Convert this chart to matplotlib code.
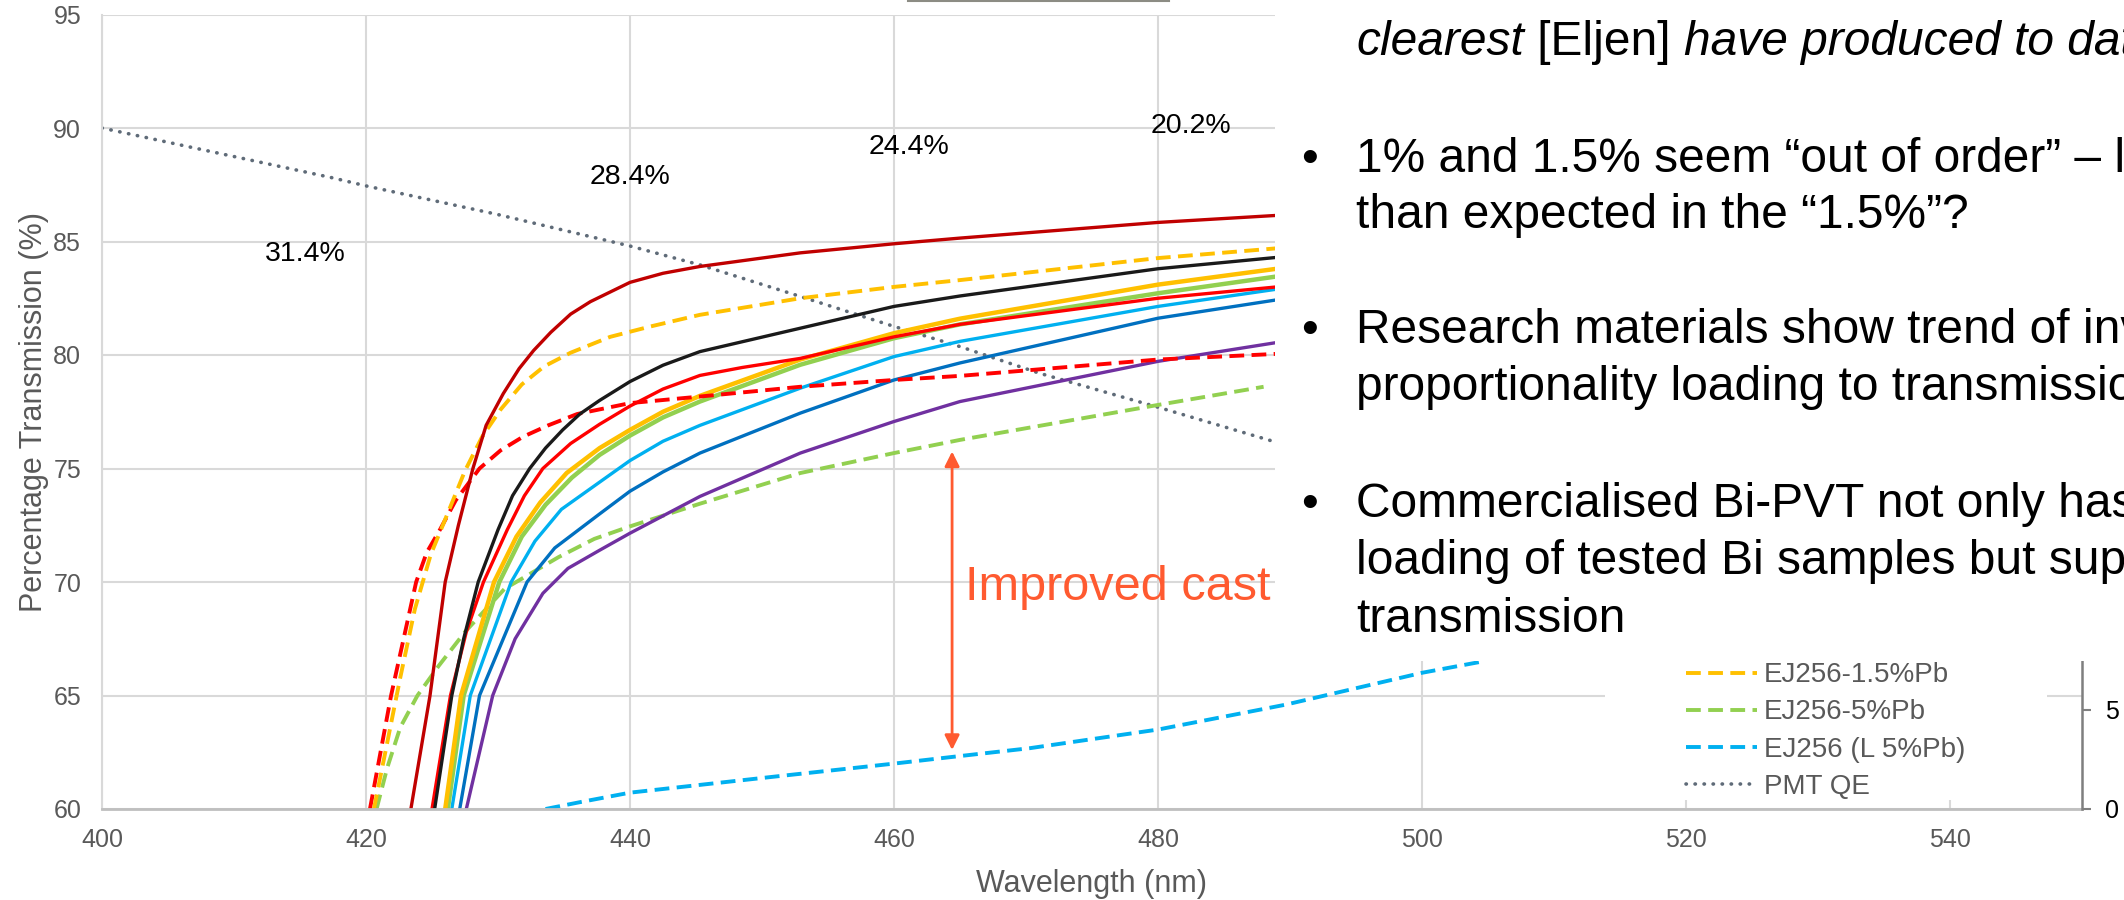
import matplotlib
matplotlib.use("Agg")
import matplotlib.pyplot as plt
from matplotlib.patches import Rectangle
from matplotlib.lines import Line2D

plt.rcParams['font.family'] = ['Liberation Sans', 'DejaVu Sans']

# transmission curves, wavelength (nm) / transmission (%)
dkred_x = [423.4, 424.85, 426.0, 427.0, 428.1, 429.1, 430.4, 431.6, 432.7, 434.0, 435.5, 437.0,
           440.0, 442.5, 445.3, 452.9, 460, 465, 480, 489]
dkred_y = [60, 65, 70, 72.5, 75, 76.9, 78.3, 79.4, 80.2, 81.0, 81.8, 82.35,
           83.2, 83.6, 83.9, 84.5, 84.9, 85.15, 85.84, 86.15]

orgdash_x = [420.6, 421.6, 422.6, 423.7, 424.9, 426.1, 427.5, 428.8, 430.2, 431.8, 433.5, 435.5,
             438.5, 441.5, 445.3, 452.9, 460, 465, 480, 489]
orgdash_y = [60, 62.9, 65.8, 68.8, 71.2, 72.9, 74.9, 76.4, 77.6, 78.7, 79.5, 80.1,
             80.8, 81.25, 81.77, 82.5, 83.0, 83.3, 84.27, 84.7]

black_x = [425.2, 426.5, 427.4, 428.5, 430.0, 431.1, 432.4, 433.6, 434.9, 436.2, 437.7, 440,
           442.5, 445.3, 452.9, 460, 465, 480, 489]
black_y = [60, 65, 67.5, 70, 72.3, 73.8, 75, 75.9, 76.7, 77.4, 78.0, 78.83,
           79.55, 80.15, 81.18, 82.14, 82.6, 83.8, 84.3]

red_x = [425.0, 426.4, 427.6, 428.9, 430.7, 432.0, 433.4, 435.5, 437.7, 440, 442.5, 445.3,
         448.5, 452.9, 460, 465, 480, 489]
red_y = [60, 65, 67.8, 70, 72.3, 73.8, 75, 76.1, 76.95, 77.75, 78.5, 79.1,
         79.45, 79.85, 80.8, 81.35, 82.5, 83.0]

gold_x = [426.0, 427.2, 429.7, 431.4, 433.2, 435.2, 437.7, 440, 442.5, 445.3, 452.9, 460, 465, 480, 489]
gold_y = [60, 65, 70, 72.0, 73.5, 74.8, 75.9, 76.7, 77.5, 78.2, 79.8, 80.96, 81.6, 83.1, 83.8]

green_x = [426.2, 427.4, 430.1, 431.8, 433.6, 435.6, 437.7, 440, 442.5, 445.3, 452.9, 460, 465, 480, 489]
green_y = [60, 65, 70, 72.0, 73.4, 74.6, 75.6, 76.45, 77.25, 77.95, 79.57, 80.74, 81.35, 82.72, 83.46]

ltblue_x = [426.5, 427.9, 431.0, 432.8, 434.8, 437.7, 440, 442.5, 445.3, 452.9, 460, 465, 480, 489]
ltblue_y = [60, 65, 70, 71.8, 73.2, 74.4, 75.35, 76.2, 76.9, 78.54, 79.93, 80.6, 82.14, 82.9]

blue_x = [427.1, 428.6, 432.2, 434.3, 437.7, 440, 442.5, 445.3, 452.9, 460, 465, 480, 489]
blue_y = [60, 65, 70, 71.5, 73.0, 74.0, 74.85, 75.68, 77.44, 78.9, 79.65, 81.62, 82.43]

purple_x = [427.6, 429.6, 431.3, 433.4, 435.3, 437.7, 440, 445.3, 452.9, 460, 465, 480, 489]
purple_y = [60, 65, 67.5, 69.5, 70.6, 71.4, 72.15, 73.77, 75.68, 77.07, 77.95, 79.72, 80.55]

reddash_x = [420.3, 421.9, 423.8, 424.6, 425.6, 426.8, 428.6, 430.2, 431.9, 433.8, 436.0, 440,
             445.3, 452.9, 460, 465, 480, 489]
reddash_y = [60, 65, 70, 71.3, 72.3, 73.6, 75, 75.8, 76.4, 76.9, 77.4, 77.88,
             78.17, 78.6, 78.9, 79.08, 79.8, 80.05]

grndash_x = [420.8, 421.6, 422.6, 423.9, 425.5, 427.5, 430.5, 434.6, 437.3, 440, 445.3, 452.9,
             460, 465, 480, 488]
grndash_y = [60, 61.8, 63.6, 65.0, 66.3, 67.8, 69.7, 71.1, 71.9, 72.45, 73.45, 74.8,
             75.68, 76.26, 77.8, 78.6]

bludash_x = [433.6, 436.2, 440, 451, 460, 464.5, 470.3, 480, 489.7, 500, 504.6]
bludash_y = [60, 60.3, 60.72, 61.43, 62.0, 62.3, 62.68, 63.5, 64.6, 66.0, 66.5]

pmt_x = [400, 417.5, 420, 429.9, 440, 445.3, 452.9, 460, 465, 471, 480, 489]
pmt_y = [90, 87.8, 87.45, 86.2, 84.8, 83.97, 82.58, 81.26, 80.37, 79.2, 77.7, 76.15]

legend_labels = ["EJ256-1.5%Pb", "EJ256-5%Pb", "EJ256 (L 5%Pb)", "PMT QE"]

pct_labels = ["31.4%", "28.4%", "24.4%", "20.2%"]
pct_x = [415.4, 440.0, 461.1, 482.5]
pct_y = [84.45, 87.85, 89.18, 90.09]

W, H = 2124, 900
fig = plt.figure(figsize=(W / 100, H / 100), dpi=100)
ax = fig.add_axes([102 / W, 91 / H, 1980 / W, 794.5 / H])
ax.set_xlim(400, 550)
ax.set_ylim(60, 95)
ax.set_xticks(range(400, 541, 20))
ax.set_yticks(range(60, 96, 5))
ax.grid(color='#D9D9D9', lw=1.5)
ax.set_axisbelow(True)
for s in ['top', 'right']:
    ax.spines[s].set_visible(False)
ax.spines['left'].set_color('#D9D9D9')
ax.spines['left'].set_linewidth(1.5)
ax.spines['bottom'].set_color('#BFBFBF')
ax.spines['bottom'].set_linewidth(2)
ax.tick_params(axis='both', length=0, labelsize=18, labelcolor='#595959')
ax.tick_params(axis='y', pad=15)
ax.tick_params(axis='x', pad=14)
ax.set_xlabel("Wavelength (nm)", fontsize=22, color='#595959', labelpad=12)
ax.set_ylabel("Percentage Transmission (%)", fontsize=22, color='#595959', labelpad=3)

solid = dict(lw=2.4, solid_capstyle='round', solid_joinstyle='round')
thick = dict(lw=3.2, solid_capstyle='round', solid_joinstyle='round')
dash = dict(lw=2.8, ls=(0, (3.8, 1.9)), dash_joinstyle='round')
dots = dict(lw=2.6, ls=(0, (0.1, 2.4)), dash_capstyle='round')

ax.plot(pmt_x, pmt_y, color='#5F6B78', **dots)
ax.plot(bludash_x, bludash_y, color='#00B0F0', **dash)
ax.plot(grndash_x, grndash_y, color='#92D050', **dash)
ax.plot(purple_x, purple_y, color='#7030A0', **solid)
ax.plot(blue_x, blue_y, color='#0070C0', **solid)
ax.plot(ltblue_x, ltblue_y, color='#00B0F0', **solid)
ax.plot(green_x, green_y, color='#92D050', **thick)
ax.plot(gold_x, gold_y, color='#FFC000', **thick)
ax.plot(reddash_x, reddash_y, color='#FF0000', **dash)
ax.plot(red_x, red_y, color='#FF0000', **solid)
ax.plot(black_x, black_y, color='#1A1A1A', **solid)
ax.plot(orgdash_x, orgdash_y, color='#FFC000', **dash)
ax.plot(dkred_x, dkred_y, color='#C00000', **solid)

for lab, x, y in zip(pct_labels, pct_x, pct_y):
    ax.text(x, y, lab, fontsize=20.5, ha='center', va='center', color='black')

ax.annotate('', xy=(464.4, 75.75), xytext=(464.4, 62.6),
            arrowprops=dict(arrowstyle='<|-|>', color='#FF5A30', lw=2,
                            mutation_scale=22, shrinkA=0, shrinkB=0))
ax.text(465.4, 69.2, "Improved cast", fontsize=35, color='#FF5A30', va='baseline')

ax2 = ax.twinx()
ax2.set_ylim(0, 40)
ax2.set_yticks(range(0, 41, 5))
for s in ['top', 'left', 'bottom']:
    ax2.spines[s].set_visible(False)
ax2.spines['right'].set_color('#7F7F7F')
ax2.spines['right'].set_linewidth(1.8)
ax2.tick_params(axis='y', length=6.5, width=1.5, color='#7F7F7F', labelsize=18,
                labelcolor='black', pad=10)

# white text panel laid over the upper right of the chart, and the legend panel
fig.add_artist(Rectangle((1275 / W, 1 - 661 / H), 1, 1, transform=fig.transFigure,
                         facecolor='white', edgecolor='none', zorder=5))
fig.add_artist(Rectangle((1605 / W, 1 - 800 / H), 442 / W, 145 / H, transform=fig.transFigure,
                         facecolor='white', edgecolor='none', zorder=5))
fig.add_artist(Line2D([908 / W, 1169 / W], [1 - 1 / H] * 2, transform=fig.transFigure,
                      color='#8C8C84', lw=1.5, zorder=6))

leg_lines = [
    Line2D([], [], color='#FFC000', **dash),
    Line2D([], [], color='#92D050', **dash),
    Line2D([], [], color='#00B0F0', **dash),
    Line2D([], [], color='#5F6B78', **dots),
]
leg = fig.legend(leg_lines, legend_labels, loc='center left',
                 bbox_to_anchor=(1686 / W, 1 - 731 / H), frameon=False, fontsize=20,
                 labelcolor='#595959', handlelength=2.55, handletextpad=0.25,
                 labelspacing=0.4, borderpad=0, borderaxespad=0)
leg.set_zorder(7)

renderer = fig.canvas.get_renderer()
FS = 34.5


def line_runs(xpx, ypx, parts, size=FS):
    x = xpx / W
    for txt, style in parts:
        t = fig.text(x, 1 - ypx / H, txt, fontsize=size, style=style, va='baseline',
                     color='black', zorder=8)
        bb = t.get_window_extent(renderer=renderer)
        x = bb.x1 / W


tx = 1356
bx = 1301
line_runs(tx, 55, [("clearest", 'italic'), (" [Eljen] ", 'normal'),
                   ("have produced to date", 'italic')])
for yb in [171.7, 343.3, 516.7]:
    fig.text(bx / W, 1 - yb / H, "\u2022", fontsize=FS, va='baseline', zorder=8)
body = [
    (171.7, "1% and 1.5% seem \u201cout of order\u201d \u2013 less"),
    (228.3, "than expected in the \u201c1.5%\u201d?"),
    (343.3, "Research materials show trend of inverse"),
    (400.0, "proportionality loading to transmission"),
    (516.7, "Commercialised Bi-PVT not only has higher"),
    (574.0, "loading of tested Bi samples but superior"),
    (631.7, "transmission"),
]
for yb, txt in body:
    fig.text(tx / W, 1 - yb / H, txt, fontsize=FS, va='baseline', zorder=8)

fig.savefig("out.png", dpi=100)
